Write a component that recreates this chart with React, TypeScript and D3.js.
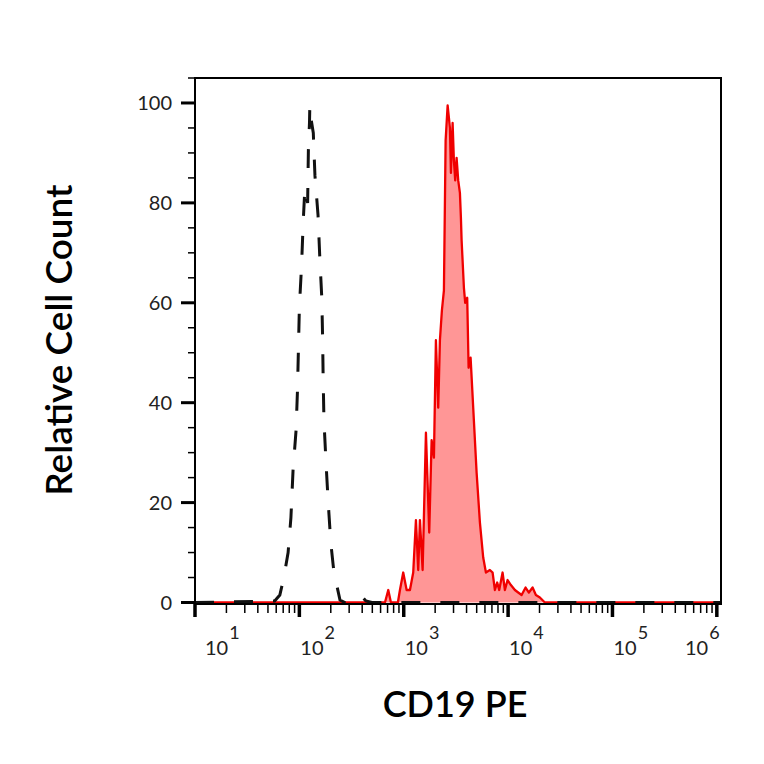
import React, { useEffect, useRef } from 'react';
import * as d3 from 'd3';

// CD19 PE fluorescence (linear intensity) vs relative cell count
const stainedX = [10, 661, 711, 754, 879, 920, 989, 1066, 1147, 1233, 1309, 1377, 1430, 1517, 1632, 1755, 1850, 1947, 2034, 2141, 2222, 2322, 2427, 2520, 2634, 2710, 2771, 2833, 2940, 3025, 3114, 3211, 3327, 3454, 3531, 3586, 3773, 3882, 4057, 4184, 4373, 4992, 5370, 5775, 6131, 6695, 7106, 7474, 7863, 8219, 8857, 9318, 9890, 10636, 11619, 12495, 13470, 14712, 15820, 17170, 18460, 20160, 22510, 1100000];
const stainedY = [0, 0, 2.5, 0, 0, 2.5, 6, 2.5, 2.5, 6, 16.5, 6.5, 16.5, 6.5, 34, 14, 32.5, 29, 52.5, 39, 52.5, 58.5, 62.5, 92.5, 99.5, 97, 95, 86, 96, 88.5, 84.5, 89, 84.5, 82, 77, 72.5, 63, 60, 61, 47, 49, 26, 16, 9, 6, 6.5, 6, 2.5, 4, 2.5, 6, 2.5, 4.5, 3.5, 2.5, 2, 1.5, 3, 2, 3, 1.5, 1, 0, 0];

const isotypeX = [10, 58, 65, 71, 78, 83, 87, 93, 96, 98, 100, 105, 109, 113, 120, 122, 125, 126, 129, 136, 141, 151, 157, 164, 167, 169, 172, 180, 189, 200, 212, 228, 245, 273, 341, 380, 406, 434, 496, 1100000];
const isotypeY = [0, 0.3, 1.5, 5, 10, 17, 26.5, 34.5, 42.7, 51, 59, 67.5, 76.5, 83, 80, 90.5, 96, 99.5, 97, 94, 85.5, 77.5, 69, 61, 53, 45, 36.5, 28, 20, 12, 7, 3.5, 0.5, 0, 0, 0.8, 1, 0.3, 0, 0];

const yTicks = [0, 20, 40, 60, 80, 100];
const xDecades = [1, 2, 3, 4, 5, 6];

const App: React.FC = () => {
  const svgRef = useRef<SVGSVGElement>(null);

  useEffect(() => {
    document.body.style.margin = '0';
    if (!svgRef.current) return;
    const svg = d3.select(svgRef.current);
    svg.selectAll('*').remove();

    const width = 764;
    const height = 764;
    const left = 195, right = 721, top = 78, bottom = 604;
    const font = "Lato, 'Open Sans', sans-serif";

    svg.append('rect').attr('width', width).attr('height', height).attr('fill', '#fff');

    const x = d3.scaleLog().domain([10, Math.pow(10, 6.04)]).range([left, right]);
    const y = d3.scaleLinear().domain([-0.3, 105]).range([bottom, top]);

    const stained = stainedX.map((v, i) => ({ x: v, y: stainedY[i] }));
    const isotype = isotypeX.map((v, i) => ({ x: v, y: isotypeY[i] }));

    svg.append('clipPath').attr('id', 'plotclip')
      .append('rect').attr('x', left).attr('y', top).attr('width', right - left).attr('height', bottom - top);

    const plot = svg.append('g').attr('clip-path', 'url(#plotclip)');

    // Stained sample (filled)
    const area = d3.area<{ x: number; y: number }>()
      .x(d => x(d.x))
      .y0(y(0))
      .y1(d => y(d.y));
    plot.append('path')
      .datum(stained)
      .attr('fill', '#ff9696')
      .attr('d', area);

    const line = d3.line<{ x: number; y: number }>()
      .x(d => x(d.x))
      .y(d => y(d.y));
    plot.append('path')
      .datum(stained)
      .attr('fill', 'none')
      .attr('stroke', '#f00000')
      .attr('stroke-width', 2.3)
      .attr('stroke-linejoin', 'round')
      .attr('d', line);

    // Isotype control (dashed)
    plot.append('path')
      .datum(isotype)
      .attr('fill', 'none')
      .attr('stroke', '#111')
      .attr('stroke-width', 3)
      .attr('stroke-dasharray', '19,20')
      .attr('d', line);

    // Frame
    svg.append('rect')
      .attr('x', left).attr('y', top)
      .attr('width', right - left).attr('height', bottom - top)
      .attr('fill', 'none')
      .attr('stroke', '#000')
      .attr('stroke-width', 2);

    // Y ticks
    const yMinor = d3.range(0, 106, 5);
    svg.append('g').selectAll('line')
      .data(yMinor)
      .enter().append('line')
      .attr('x1', d => (d % 20 === 0 ? left - 14 : left - 7))
      .attr('x2', left)
      .attr('y1', d => y(d)).attr('y2', d => y(d))
      .attr('stroke', '#000')
      .attr('stroke-width', d => (d % 20 === 0 ? 3 : 1.5));

    svg.append('g').selectAll('text')
      .data(yTicks)
      .enter().append('text')
      .attr('x', left - 23)
      .attr('y', d => y(d))
      .attr('dy', '0.35em')
      .attr('text-anchor', 'end')
      .attr('font-family', font)
      .attr('font-size', '20px')
      .attr('fill', '#222')
      .text(d => d);

    // X ticks
    const xMinor: number[] = [];
    xDecades.slice(0, -1).forEach(e => {
      for (let k = 2; k <= 9; k++) xMinor.push(k * Math.pow(10, e));
    });
    svg.append('g').selectAll('line.minor')
      .data(xMinor)
      .enter().append('line')
      .attr('x1', d => x(d)).attr('x2', d => x(d))
      .attr('y1', bottom).attr('y2', bottom + 9)
      .attr('stroke', '#000')
      .attr('stroke-width', 1.5);

    svg.append('g').selectAll('line.major')
      .data(xDecades)
      .enter().append('line')
      .attr('x1', d => x(Math.pow(10, d))).attr('x2', d => x(Math.pow(10, d)))
      .attr('y1', bottom).attr('y2', bottom + 13)
      .attr('stroke', '#000')
      .attr('stroke-width', 3.5);

    const labels = svg.append('g').selectAll('text')
      .data(xDecades)
      .enter().append('text')
      .attr('x', d => Math.min(Math.max(x(Math.pow(10, d)) + 1, left + 10), right - 36))
      .attr('y', 655)
      .attr('font-family', font)
      .attr('font-size', '20px')
      .attr('fill', '#222');
    labels.append('tspan').text('10');
    labels.append('tspan')
      .attr('dx', 1)
      .attr('dy', -16)
      .style('font-size', '18px')
      .text(d => d);

    // Axis titles
    svg.append('text')
      .attr('x', 455)
      .attr('y', 717)
      .attr('text-anchor', 'middle')
      .attr('font-family', font)
      .attr('font-size', '36px')
      .attr('font-weight', 600)
      .attr('fill', '#000')
      .text('CD19 PE');

    svg.append('text')
      .attr('transform', 'translate(72,340) rotate(-90)')
      .attr('text-anchor', 'middle')
      .attr('font-family', font)
      .attr('font-size', '37px')
      .attr('font-weight', 600)
      .attr('fill', '#000')
      .text('Relative Cell Count');
  }, []);

  return <svg ref={svgRef} width={764} height={764} style={{ display: 'block' }} />;
};

export default App;
